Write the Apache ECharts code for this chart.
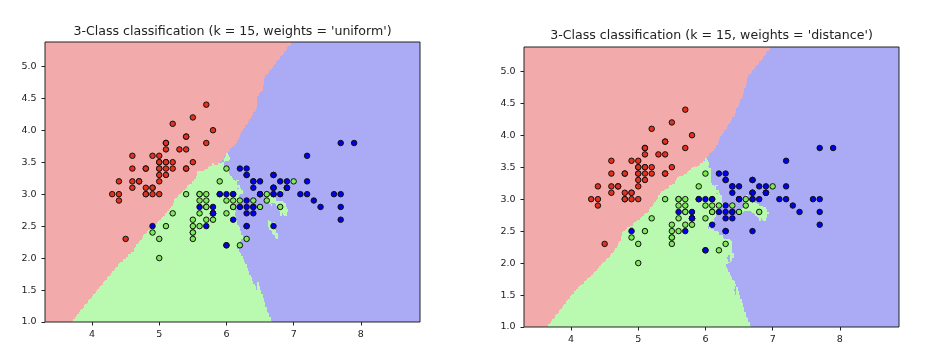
<!DOCTYPE html>
<html><head><meta charset="utf-8">
<script src="https://cdn.jsdelivr.net/npm/echarts@6/dist/echarts.min.js"></script>
<style>html,body{margin:0;padding:0;background:#fff}#c{width:928px;height:360px}</style>
</head><body><div id="c"></div>
<script>
// Iris data set: sepal length / sepal width, class labels (0 setosa, 1 versicolor, 2 virginica)
const sepalLength = [
5.1,4.9,4.7,4.6,5.0,5.4,4.6,5.0,4.4,4.9,5.4,4.8,4.8,4.3,5.8,5.7,5.4,5.1,5.7,5.1,5.4,5.1,4.6,5.1,4.8,5.0,5.0,5.2,5.2,4.7,4.8,5.4,5.2,5.5,4.9,5.0,5.5,4.9,4.4,5.1,5.0,4.5,4.4,5.0,5.1,4.8,5.1,4.6,5.3,5.0,
7.0,6.4,6.9,5.5,6.5,5.7,6.3,4.9,6.6,5.2,5.0,5.9,6.0,6.1,5.6,6.7,5.6,5.8,6.2,5.6,5.9,6.1,6.3,6.1,6.4,6.6,6.8,6.7,6.0,5.7,5.5,5.5,5.8,6.0,5.4,6.0,6.7,6.3,5.6,5.5,5.5,6.1,5.8,5.0,5.6,5.7,5.7,6.2,5.1,5.7,
6.3,5.8,7.1,6.3,6.5,7.6,4.9,7.3,6.7,7.2,6.5,6.4,6.8,5.7,5.8,6.4,6.5,7.7,7.7,6.0,6.9,5.6,7.7,6.3,6.7,7.2,6.2,6.1,6.4,7.2,7.4,7.9,6.4,6.3,6.1,7.7,6.3,6.4,6.0,6.9,6.7,6.9,5.8,6.8,6.7,6.7,6.3,6.5,6.2,5.9];
const sepalWidth = [
3.5,3.0,3.2,3.1,3.6,3.9,3.4,3.4,2.9,3.1,3.7,3.4,3.0,3.0,4.0,4.4,3.9,3.5,3.8,3.8,3.4,3.7,3.6,3.3,3.4,3.0,3.4,3.5,3.4,3.2,3.1,3.4,4.1,4.2,3.1,3.2,3.5,3.6,3.0,3.4,3.5,2.3,3.2,3.5,3.8,3.0,3.8,3.2,3.7,3.3,
3.2,3.2,3.1,2.3,2.8,2.8,3.3,2.4,2.9,2.7,2.0,3.0,2.2,2.9,2.9,3.1,3.0,2.7,2.2,2.5,3.2,2.8,2.5,2.8,2.9,3.0,2.8,3.0,2.9,2.6,2.4,2.4,2.7,2.7,3.0,3.4,3.1,2.3,3.0,2.5,2.6,3.0,2.6,2.3,2.7,3.0,2.9,2.9,2.5,2.8,
3.3,2.7,3.0,2.9,3.0,3.0,2.5,2.9,2.5,3.6,3.2,2.7,3.0,2.5,2.8,3.2,3.0,3.8,2.6,2.2,3.2,2.8,2.8,2.7,3.3,3.2,2.8,3.0,2.8,3.0,2.8,3.8,2.8,2.8,2.6,3.0,3.4,3.1,3.0,3.1,3.1,3.1,2.7,3.2,3.3,3.0,2.5,3.0,3.4,3.0];
const species = [
0,0,0,0,0,0,0,0,0,0,0,0,0,0,0,0,0,0,0,0,0,0,0,0,0,0,0,0,0,0,0,0,0,0,0,0,0,0,0,0,0,0,0,0,0,0,0,0,0,0,
1,1,1,1,1,1,1,1,1,1,1,1,1,1,1,1,1,1,1,1,1,1,1,1,1,1,1,1,1,1,1,1,1,1,1,1,1,1,1,1,1,1,1,1,1,1,1,1,1,1,
2,2,2,2,2,2,2,2,2,2,2,2,2,2,2,2,2,2,2,2,2,2,2,2,2,2,2,2,2,2,2,2,2,2,2,2,2,2,2,2,2,2,2,2,2,2,2,2,2,2];
const xTicks = [4, 5, 6, 7, 8];
const yTicks = [1.0, 1.5, 2.0, 2.5, 3.0, 3.5, 4.0, 4.5, 5.0];
const nNeighbors = 15;
const weightModes = ['uniform', 'distance'];
const titles = ["3-Class classification (k = 15, weights = 'uniform')", "3-Class classification (k = 15, weights = 'distance')"];
const meshStep = 0.02;

// styles
const bgColors = ['#F2ABAA', '#BAF9B0', '#AAAAF5'];
const ptColors = ['#E4301E', '#7EEA5A', '#0000EE'];
const grids = [
  {left: 45, top: 42, width: 375, height: 280, titleX: 232.5, titleY: 25},
  {left: 524, top: 47, width: 375, height: 280, titleX: 711.5, titleY: 29.5}
];
const FONT = 'DejaVu Sans';

// k-nearest-neighbours prediction (as sklearn KNeighborsClassifier)
const N = sepalLength.length;
function predict(px, py, mode) {
  const bd = [], bi = [];
  for (let i = 0; i < N; i++) {
    const dx = sepalLength[i] - px, dy = sepalWidth[i] - py;
    const d = dx * dx + dy * dy;
    if (bd.length < nNeighbors || d < bd[nNeighbors - 1]) {
      let j = bd.length < nNeighbors ? bd.length : nNeighbors - 1;
      while (j > 0 && bd[j - 1] > d) { bd[j] = bd[j - 1]; bi[j] = bi[j - 1]; j--; }
      bd[j] = d; bi[j] = i;
    }
  }
  const votes = [0, 0, 0];
  if (mode === 'uniform') {
    for (let j = 0; j < bi.length; j++) votes[species[bi[j]]] += 1;
  } else {
    let hasZero = false;
    for (let j = 0; j < bd.length; j++) if (bd[j] === 0) hasZero = true;
    for (let j = 0; j < bd.length; j++) {
      const w = hasZero ? (bd[j] === 0 ? 1 : 0) : 1 / Math.sqrt(bd[j]);
      votes[species[bi[j]]] += w;
    }
  }
  let best = 0;
  for (let c = 1; c < 3; c++) if (votes[c] > votes[best]) best = c;
  return best;
}

const xMin = Math.min(...sepalLength) - 1, xMax = Math.max(...sepalLength) + 1;
const yMin = Math.min(...sepalWidth) - 1, yMax = Math.max(...sepalWidth) + 1;
const nx = Math.ceil((xMax - xMin) / meshStep), ny = Math.ceil((yMax - yMin) / meshStep);
const xx = [], yy = [];
for (let i = 0; i < nx; i++) xx.push(xMin + i * meshStep);
for (let j = 0; j < ny; j++) yy.push(yMin + j * meshStep);

function meshRuns(mode) {
  const runs = [];
  for (let j = 0; j < ny - 1; j++) {
    let start = 0, cur = predict(xx[0], yy[j], mode);
    for (let i = 1; i < nx - 1; i++) {
      const c = predict(xx[i], yy[j], mode);
      if (c !== cur) { runs.push([xx[start], xx[i], yy[j], yy[j + 1], cur]); start = i; cur = c; }
    }
    runs.push([xx[start], xx[nx - 1], yy[j], yy[j + 1], cur]);
  }
  return runs;
}

const points = sepalLength.map((x, i) => [x, sepalWidth[i], species[i]]);

const option = {
  animation: false,
  title: [], grid: [], xAxis: [], yAxis: [], series: []
};
weightModes.forEach((mode, k) => {
  const g = grids[k];
  option.title.push({text: titles[k], left: g.titleX, top: g.titleY, textAlign: 'center', padding: 0,
    textStyle: {fontFamily: FONT, fontSize: 12.6, fontWeight: 'normal', color: '#222'}});
  option.grid.push({left: g.left, top: g.top, width: g.width, height: g.height, show: true, z: 10,
    backgroundColor: 'transparent', borderColor: '#222', borderWidth: 1});
  option.xAxis.push({type: 'value', gridIndex: k, min: xx[0], max: xx[nx - 1],
    splitLine: {show: false}, axisLine: {show: false},
    axisTick: {show: true, length: 3.5, customValues: xTicks, lineStyle: {color: '#222'}},
    axisLabel: {customValues: xTicks, margin: 8, fontFamily: FONT, fontSize: 9.5, color: '#222', formatter: v => String(v)}});
  option.yAxis.push({type: 'value', gridIndex: k, min: yy[0], max: yy[ny - 1],
    splitLine: {show: false}, axisLine: {show: false},
    axisTick: {show: true, length: 3.5, customValues: yTicks, lineStyle: {color: '#222'}},
    axisLabel: {customValues: yTicks, margin: 8.5, fontFamily: FONT, fontSize: 9.5, color: '#222', formatter: v => v.toFixed(1)}});
  option.series.push({
    type: 'custom', xAxisIndex: k, yAxisIndex: k, silent: true, z: 1,
    data: meshRuns(mode),
    encode: {x: [0, 1], y: [2, 3]},
    renderItem: function (params, api) {
      const p0 = api.coord([api.value(0), api.value(2)]);
      const p1 = api.coord([api.value(1), api.value(3)]);
      const x0 = Math.round(p0[0]), x1 = Math.round(p1[0]);
      const ya = Math.round(p0[1]), yb = Math.round(p1[1]);
      return {type: 'rect', shape: {x: x0, y: Math.min(ya, yb), width: x1 - x0, height: Math.abs(yb - ya)},
        style: {fill: bgColors[api.value(4)]}};
    }
  });
  option.series.push({
    type: 'scatter', xAxisIndex: k, yAxisIndex: k, z: 3, symbolSize: 5.5,
    data: points,
    itemStyle: {color: p => ptColors[p.data[2]], borderColor: '#111', borderWidth: 1, opacity: 1}
  });
});

const chart = echarts.init(document.getElementById('c'), null, {renderer: 'canvas'});
chart.setOption(option);
</script>
</body></html>
